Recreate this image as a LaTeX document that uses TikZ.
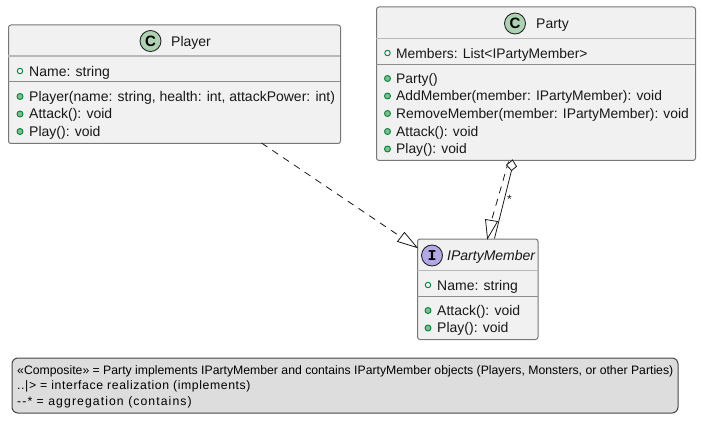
\documentclass[tikz,border=0pt]{standalone}
\usepackage{fontspec}
\setmainfont{Liberation Sans}
\newfontfamily\legspacedA[LetterSpace=5]{Liberation Sans}
\newfontfamily\legspacedB[LetterSpace=8.8]{Liberation Sans}
\newfontfamily\spotmono{Liberation Mono}
\usetikzlibrary{arrows.meta}
\definecolor{boxfill}{HTML}{F1F1F1}
\definecolor{boxline}{HTML}{777777}
\definecolor{sepline}{HTML}{B8B8B8}
\definecolor{thinline}{HTML}{8C8C8C}
\definecolor{visline}{HTML}{038048}
\definecolor{visfill}{HTML}{84BE84}
\definecolor{classspot}{HTML}{ADD1B2}
\definecolor{ifacespot}{HTML}{B4A7E5}
\definecolor{legfill}{HTML}{DDDDDD}
\definecolor{ink}{HTML}{181818}
\tikzset{
 px/.style={x=1pt,y=-1pt},
 umlbox/.style={draw=boxline,fill=boxfill,line width=1pt,rounded corners=2.5pt,anchor=north west,inner sep=0pt},
 title/.style={font=\fontsize{14}{14}\selectfont,text=ink,inner sep=0pt,yshift=-1.2pt},
 member/.style={font=\fontsize{14}{14}\selectfont,text=ink,inner sep=0pt,anchor=west,yshift=-1.2pt},
 spot/.style={circle,draw=ink,line width=.8pt,minimum size=21pt,inner sep=0pt,font=\fontsize{15}{15}\selectfont\bfseries,text=black},
 fieldmark/.style={circle,draw=visline,fill=boxfill,line width=.9pt,minimum size=5.5pt,inner sep=0pt},
 methodmark/.style={circle,draw=visline,fill=visfill,line width=.9pt,minimum size=6pt,inner sep=0pt},
 headsep/.style={draw=sepline,line width=1.4pt},
 bodysep/.style={draw=thinline,line width=.9pt},
 legendbox/.style={draw=ink!80,fill=legfill,line width=1pt,rounded corners=6pt,anchor=north west,inner sep=0pt},
 legtext/.style={font=\fontsize{12.24}{12}\selectfont,text=black,inner sep=0pt,anchor=west},
 rel/.style={draw=ink,line width=.8pt},
 reldash/.style={rel,dash pattern=on 7pt off 6pt},
 hollow/.style={draw=ink,fill=white,line width=.8pt,line join=miter},
}
\begin{document}
\begin{tikzpicture}[px]
\useasboundingbox (0,0) rectangle (702,433);
% Player
\node[umlbox,minimum width=332pt,minimum height=118.5pt] (player) at (8,24.5) {};
\draw[headsep] (8,56) -- (340,56);
\draw[bodysep] (8,81.5) -- (340,81.5);
\node[spot,fill=classspot] (playerspot) at (150.5,41) {C};
\node[title,anchor=west] (playertitle) at (171,41.5) {Player};
\node[fieldmark] (pf1) at (20,71) {};
\node[member] (pm1) at (29,71.5) {Name: string};
\node[methodmark] (pg1) at (20,96.5) {};
\node[member] (pt1) at (29,96.5) {Player(name: string, health: int, attackPower: int)};
\node[methodmark] (pg2) at (20,114) {};
\node[member] (pt2) at (29,114) {Attack(): void};
\node[methodmark] (pg3) at (20,131.5) {};
\node[member] (pt3) at (29,131.5) {Play(): void};
% Party
\node[umlbox,minimum width=319pt,minimum height=153.5pt] (party) at (376,6.5) {};
\draw[headsep] (376,38.5) -- (695,38.5);
\draw[bodysep] (376,64) -- (695,64);
\node[spot,fill=classspot] (partyspot) at (515,23.5) {C};
\node[title,anchor=west] (partytitle) at (536,24) {Party};
\node[fieldmark] (qf1) at (387.5,53) {};
\node[member] (qm1) at (396,53.5) {\fontsize{13.85}{14}\selectfont Members: List<IPartyMember>};
\node[methodmark] (qg1) at (387.5,78.5) {};
\node[member] (qt1) at (396,78.5) {\fontsize{13.85}{14}\selectfont Party()};
\node[methodmark] (qg2) at (387.5,96) {};
\node[member] (qt2) at (396,96) {\fontsize{13.85}{14}\selectfont AddMember(member: IPartyMember): void};
\node[methodmark] (qg3) at (387.5,113.5) {};
\node[member] (qt3) at (396,113.5) {\fontsize{13.85}{14}\selectfont RemoveMember(member: IPartyMember): void};
\node[methodmark] (qg4) at (387.5,131.5) {};
\node[member] (qt4) at (396,131.5) {\fontsize{13.85}{14}\selectfont Attack(): void};
\node[methodmark] (qg5) at (387.5,149) {};
\node[member] (qt5) at (396,149) {\fontsize{13.85}{14}\selectfont Play(): void};
% IPartyMember
\node[umlbox,minimum width=120.5pt,minimum height=100.5pt] (iface) at (417,238.5) {};
\draw[headsep] (417,270.5) -- (537.5,270.5);
\draw[bodysep] (417,296) -- (537.5,296);
\node[spot,fill=ifacespot,font=\fontsize{15}{15}\selectfont\spotmono\bfseries] (ifacespotn) at (432,255.5) {I};
\node[title,anchor=west] (ifacetitle) at (447,256) {\itshape IPartyMember};
\node[fieldmark] (if1) at (428,285) {};
\node[member] (im1) at (437,285.5) {Name: string};
\node[methodmark] (ig1) at (428,310.5) {};
\node[member] (it1) at (437,310.5) {Attack(): void};
\node[methodmark] (ig2) at (428,328) {};
\node[member] (it2) at (437,328) {Play(): void};
% Relations
\coordinate (pstart) at (261.5,143);
\coordinate (ptipbase) at (401,237);
\coordinate (ptip) at (417,247.5);
\coordinate (ptb1) at (404.5,232.5);
\coordinate (ptb2) at (397.5,241.5);
\draw[reldash] (pstart) -- (ptipbase);
\draw[hollow] (ptip) -- (ptb1) -- (ptb2) -- cycle;
\coordinate (qstart) at (508.5,161.5);
\coordinate (qbase) at (491.5,220.5);
\coordinate (qtip) at (487.5,238.5);
\coordinate (qb1) at (485.5,219.5);
\coordinate (qb2) at (497.5,221.5);
\draw[reldash] (qstart) -- (qbase);
\draw[hollow] (qtip) -- (qb1) -- (qb2) -- cycle;
\coordinate (dt) at (512.5,160);
\coordinate (dr) at (516.5,166.5);
\coordinate (db) at (511.5,170.5);
\coordinate (dl) at (506.5,165);
\coordinate (aend) at (494.5,238.5);
\draw[rel] (db) -- (aend);
\draw[hollow,fill=boxfill!30!white] (dt) -- (dr) -- (db) -- (dl) -- cycle;
\node[font=\fontsize{12}{12}\selectfont,text=ink,inner sep=0pt] (star) at (509.5,199.5) {*};
% Legend
\node[legendbox,minimum width=666pt,minimum height=55pt] (legend) at (11.5,357.5) {};
\node[legtext] (l1) at (17,371.5) {«Composite» = Party implements IPartyMember and contains IPartyMember objects (Players, Monsters, or other Parties)};
\node[legtext] (l2) at (17,386.5) {\legspacedA ..|> = interface realization (implements)};
\node[legtext] (l3) at (17,402) {\legspacedB -{}-* = aggregation (contains)};
\end{tikzpicture}
\end{document}
